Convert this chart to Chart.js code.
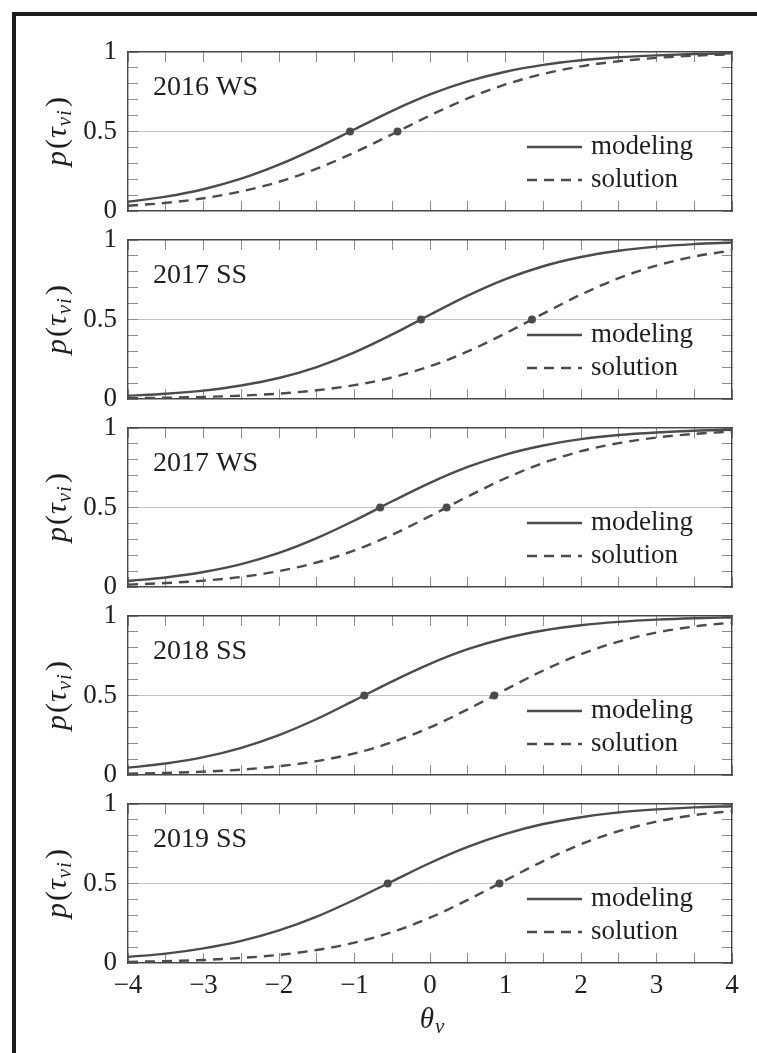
<!DOCTYPE html>
<html>
<head>
<meta charset="utf-8">
<script src="https://cdn.jsdelivr.net/npm/chart.js@4.4.1/dist/chart.umd.min.js"></script>
<style>
  html, body { margin: 0; padding: 0; background: #fff; }
  body { width: 757px; height: 1053px; position: relative; overflow: hidden; }
  #frame { position: absolute; left: 12px; top: 12px; right: 0; bottom: 0;
           border-left: 4px solid #1c1c1c; border-top: 4px solid #1c1c1c; }
  canvas { position: absolute; left: 0; }
</style>
</head>
<body>
<div id="frame"></div>
<script>
// ability grid (theta_nu) at which each curve is sampled
const theta = [-4, -3.5, -3, -2.5, -2, -1.5, -1, -0.5, 0, 0.5, 1, 1.5, 2, 2.5, 3, 3.5, 4];

// semesters, one panel each
const terms = ['2016 WS', '2017 SS', '2017 WS', '2018 SS', '2019 SS'];

// p(tau_nu i) for the "modeling" task
const mod2016WS = [0.058, 0.090, 0.137, 0.203, 0.291, 0.397, 0.514, 0.630, 0.733, 0.815, 0.876, 0.919, 0.948, 0.967, 0.979, 0.987, 0.992];
const mod2017SS = [0.020, 0.033, 0.053, 0.085, 0.132, 0.201, 0.293, 0.406, 0.530, 0.650, 0.754, 0.835, 0.893, 0.932, 0.958, 0.974, 0.984];
const mod2017WS = [0.038, 0.060, 0.094, 0.144, 0.214, 0.307, 0.418, 0.539, 0.655, 0.755, 0.833, 0.890, 0.930, 0.956, 0.972, 0.983, 0.989];
const mod2018SS = [0.046, 0.072, 0.112, 0.171, 0.251, 0.352, 0.469, 0.589, 0.699, 0.791, 0.860, 0.909, 0.942, 0.963, 0.977, 0.986, 0.991];
const mod2019SS = [0.038, 0.059, 0.092, 0.139, 0.205, 0.292, 0.398, 0.514, 0.629, 0.730, 0.812, 0.874, 0.917, 0.947, 0.966, 0.979, 0.986];

// p(tau_nu i) for the "solution" task
const sol2016WS = [0.033, 0.051, 0.080, 0.123, 0.184, 0.266, 0.368, 0.483, 0.601, 0.708, 0.796, 0.862, 0.910, 0.942, 0.963, 0.977, 0.985];
const sol2017SS = [0.005, 0.008, 0.013, 0.021, 0.034, 0.055, 0.087, 0.136, 0.206, 0.299, 0.413, 0.537, 0.657, 0.760, 0.839, 0.896, 0.934];
const sol2017WS = [0.015, 0.025, 0.040, 0.063, 0.100, 0.154, 0.230, 0.329, 0.446, 0.569, 0.684, 0.780, 0.854, 0.905, 0.940, 0.963, 0.977];
const sol2018SS = [0.008, 0.013, 0.021, 0.034, 0.055, 0.087, 0.136, 0.206, 0.299, 0.413, 0.537, 0.657, 0.760, 0.839, 0.896, 0.934, 0.959];
const sol2019SS = [0.007, 0.012, 0.019, 0.032, 0.051, 0.082, 0.128, 0.195, 0.285, 0.397, 0.520, 0.641, 0.747, 0.829, 0.889, 0.930, 0.956];

// theta where each curve crosses p = 0.5 (item difficulty)
const modelingMid = [-1.06, -0.12, -0.66, -0.87, -0.56];
const solutionMid = [-0.43, 1.35, 0.22, 0.85, 0.92];

// axis tick settings
const xRange = [-4, 4];
const xStep = 0.5;
const yRange = [0, 1];
const yStep = 0.1;
const yLabelled = [0, 0.5, 1];

const modelingSeries = [mod2016WS, mod2017SS, mod2017WS, mod2018SS, mod2019SS];
const solutionSeries = [sol2016WS, sol2017SS, sol2017WS, sol2018SS, sol2019SS];

// ---- styling / layout ----
const SERIF = '"Liberation Serif", "DejaVu Serif", serif';
const LINE = '#4b4b4b';
const AXIS = '#474747';
const TICK = '#8c8c8c';
const GRID = '#c2c2c2';
const TEXT = '#1e1e1e';
const PAGE_W = 757, PAGE_H = 1053;
const PLOT_LEFT = 128, PLOT_RIGHT = 732;
const PANEL_TOP0 = 52, PANEL_STEP = 188, PANEL_H = 159;
const PAD = 42;

const near = (a, b) => Math.abs(a - b) < 1e-6;
const fmtNum = v => (v < 0 ? '\u2212' + String(-v) : String(v));

// draws the math-style axis titles, the term name and the in-plot legend
const panelDecor = {
  id: 'panelDecor',
  afterDraw(chart, args, opts) {
    const { ctx, chartArea: a } = chart;
    ctx.save();
    ctx.fillStyle = TEXT;
    ctx.textAlign = 'left';
    ctx.textBaseline = 'alphabetic';

    // term name
    ctx.font = `28px ${SERIF}`;
    ctx.fillText(opts.term, a.left + 25, a.top + 43);

    // legend inside the plot, lower right
    const items = chart.data.datasets.filter(d => d.inLegend);
    items.forEach((d, k) => {
      const y = a.bottom - 64 + k * 33;
      ctx.strokeStyle = d.borderColor;
      ctx.lineWidth = d.borderWidth;
      ctx.setLineDash(d.borderDash || []);
      ctx.beginPath();
      ctx.moveTo(a.right - 205, y);
      ctx.lineTo(a.right - 150, y);
      ctx.stroke();
      ctx.setLineDash([]);
      ctx.font = `27px ${SERIF}`;
      ctx.fillText(d.label, a.right - 141, y + 7);
    });

    // y title  p(tau_{nu i}), rotated
    const pieces = [
      { t: 'p', f: `italic 30px ${SERIF}`, dy: 0, gap: 2 },
      { t: '(', f: `30px ${SERIF}`, dy: 0, gap: 1 },
      { t: '\u03C4', f: `italic 30px ${SERIF}`, dy: 0, gap: 1 },
      { t: '\u03BD', f: `italic 21px ${SERIF}`, dy: 5, gap: 1 },
      { t: 'i', f: `italic 21px ${SERIF}`, dy: 5, gap: 3 },
      { t: ')', f: `30px ${SERIF}`, dy: 0, gap: 0 }
    ];
    let total = 0;
    pieces.forEach(p => { ctx.font = p.f; p.w = ctx.measureText(p.t).width; total += p.w + p.gap; });
    ctx.save();
    ctx.translate(66, (a.top + a.bottom) / 2);
    ctx.rotate(-Math.PI / 2);
    let x = -total / 2;
    pieces.forEach(p => { ctx.font = p.f; ctx.fillText(p.t, x, p.dy); x += p.w + p.gap; });
    ctx.restore();

    // x title  theta_nu, below the last panel
    if (opts.last) {
      const cx = (a.left + a.right) / 2 + 2;
      const base = a.bottom + 65;
      ctx.font = `italic 29px ${SERIF}`;
      const w1 = ctx.measureText('\u03B8').width;
      ctx.font = `italic 21px ${SERIF}`;
      const w2 = ctx.measureText('\u03BD').width;
      const x0 = cx - (w1 + w2 + 1) / 2;
      ctx.font = `italic 29px ${SERIF}`;
      ctx.fillText('\u03B8', x0, base);
      ctx.font = `italic 21px ${SERIF}`;
      ctx.fillText('\u03BD', x0 + w1 + 1, base + 5);
    }
    ctx.restore();
  }
};

function tickGrid(extra) {
  return Object.assign({
    drawOnChartArea: false,
    drawTicks: true,
    tickLength: -10,
    tickColor: TICK,
    tickWidth: 1,
    color: 'rgba(0,0,0,0)',
    lineWidth: 1
  }, extra || {});
}
const frameBorder = { display: true, color: AXIS, width: 1.4 };

function buildPanel(i) {
  const last = i === terms.length - 1;
  const top = PANEL_TOP0 + i * PANEL_STEP;
  const canvasTop = top - PAD;
  const canvasH = last ? PAGE_H - canvasTop : PANEL_H + 2 * PAD;
  const bottomBox = canvasH - PAD - PANEL_H;

  const cv = document.createElement('canvas');
  cv.width = PAGE_W; cv.height = canvasH;
  cv.style.top = canvasTop + 'px';
  cv.style.width = PAGE_W + 'px'; cv.style.height = canvasH + 'px';
  document.body.appendChild(cv);

  const pts = arr => theta.map((t, k) => ({ x: t, y: arr[k] }));

  new Chart(cv, {
    type: 'line',
    data: {
      datasets: [
        { label: 'modeling', data: pts(modelingSeries[i]), inLegend: true,
          borderColor: LINE, borderWidth: 2.4, pointRadius: 0,
          cubicInterpolationMode: 'monotone', fill: false },
        { label: 'solution', data: pts(solutionSeries[i]), inLegend: true,
          borderColor: LINE, borderWidth: 2.4, borderDash: [10, 7], pointRadius: 0,
          cubicInterpolationMode: 'monotone', fill: false },
        { label: 'modeling p = 0.5', data: [{ x: modelingMid[i], y: 0.5 }], showLine: false,
          pointRadius: 4, pointBackgroundColor: LINE, pointBorderWidth: 0, borderColor: LINE },
        { label: 'solution p = 0.5', data: [{ x: solutionMid[i], y: 0.5 }], showLine: false,
          pointRadius: 4, pointBackgroundColor: LINE, pointBorderWidth: 0, borderColor: LINE }
      ]
    },
    options: {
      responsive: false,
      animation: false,
      devicePixelRatio: 1,
      events: [],
      layout: { padding: { top: PAD, right: PAGE_W - PLOT_RIGHT, bottom: 0, left: 0 } },
      plugins: {
        legend: { display: false },
        tooltip: { enabled: false },
        panelDecor: { term: terms[i], last }
      },
      scales: {
        x: {
          type: 'linear', position: 'bottom', min: xRange[0], max: xRange[1],
          afterFit: s => { s.height = bottomBox; },
          border: frameBorder,
          grid: tickGrid(),
          ticks: {
            display: last, stepSize: xStep, autoSkip: false, maxRotation: 0, minRotation: 0,
            padding: 17, color: TEXT, font: { family: SERIF, size: 27 },
            callback: v => (Number.isInteger(v) ? fmtNum(v) : '')
          }
        },
        xTop: {
          type: 'linear', position: 'top', min: xRange[0], max: xRange[1],
          afterFit: s => { s.height = 0; },
          border: frameBorder,
          grid: tickGrid(),
          ticks: { display: false, stepSize: xStep, autoSkip: false }
        },
        y: {
          type: 'linear', position: 'left', min: yRange[0], max: yRange[1],
          afterFit: s => { s.width = PLOT_LEFT; },
          border: frameBorder,
          grid: tickGrid({
            drawOnChartArea: true,
            color: c => (c.tick && near(c.tick.value, 0.5) ? GRID : 'rgba(0,0,0,0)')
          }),
          ticks: {
            stepSize: yStep, autoSkip: false, padding: 21, color: TEXT,
            font: { family: SERIF, size: 27 },
            callback: v => {
              const hit = yLabelled.find(l => near(l, v));
              return hit === undefined ? '' : String(hit);
            }
          }
        },
        yRight: {
          type: 'linear', position: 'right', min: yRange[0], max: yRange[1],
          afterFit: s => { s.width = 0; },
          border: frameBorder,
          grid: tickGrid(),
          ticks: { display: false, stepSize: yStep, autoSkip: false }
        }
      }
    },
    plugins: [panelDecor]
  });
}

terms.forEach((t, i) => buildPanel(i));
</script>
</body>
</html>
